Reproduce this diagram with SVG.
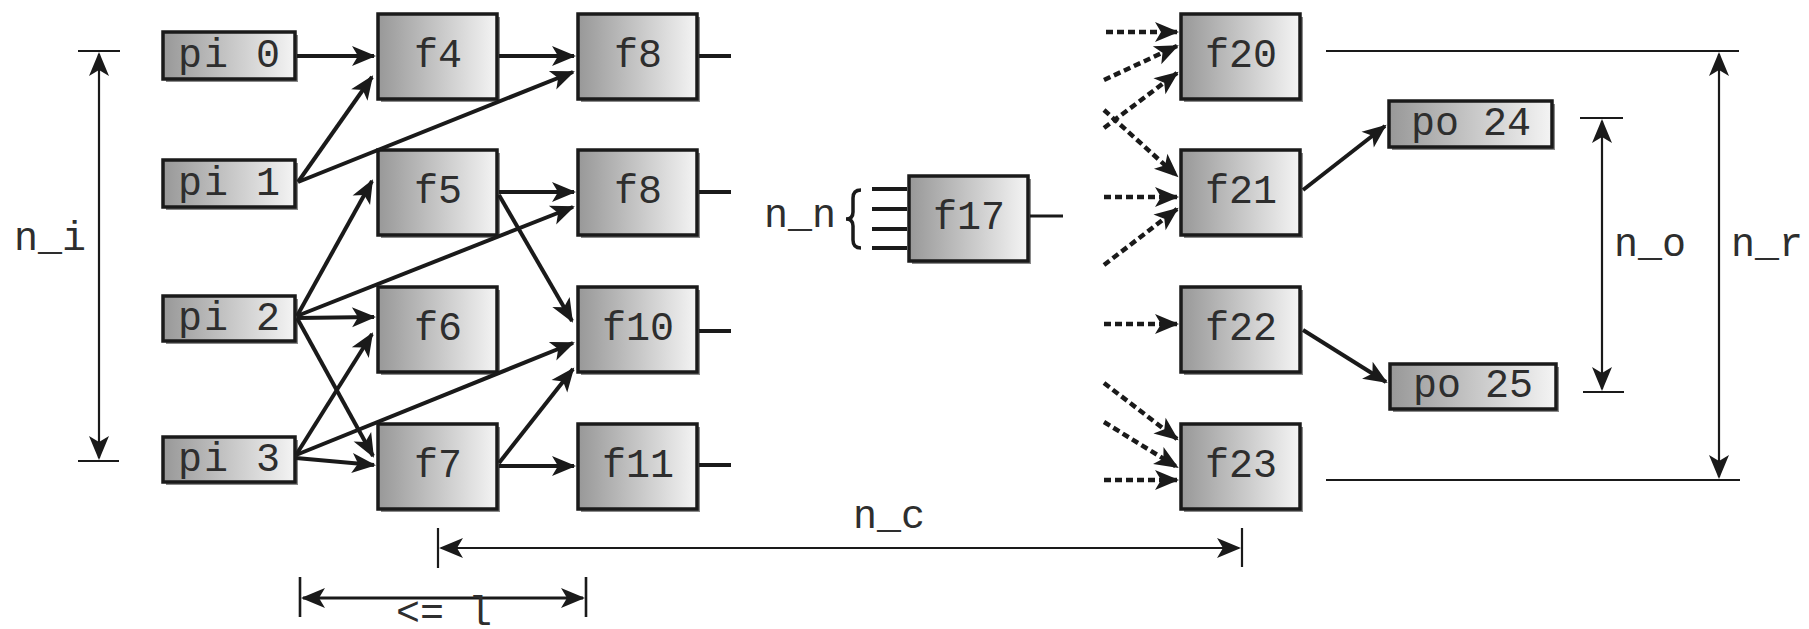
<svg xmlns="http://www.w3.org/2000/svg" width="1809" height="629" viewBox="0 0 1809 629">
<style>
  .box{fill:url(#g);stroke:#1a1a1a;stroke-width:3.5}
  .sh{fill:#8a8a8a}
  .t{font-family:"Liberation Mono","Courier New",monospace;font-size:40px;fill:#2e2e2e}
  .c{text-anchor:middle}
  .ls{letter-spacing:2px}
  .con{fill:none;stroke:#1a1a1a;stroke-width:4;marker-end:url(#a)}
  .dash{fill:none;stroke:#1a1a1a;stroke-width:4.5;stroke-dasharray:7 4;marker-end:url(#a)}
  .stub{fill:none;stroke:#1a1a1a;stroke-width:4}
  .dim{fill:none;stroke:#1a1a1a;stroke-width:2.2}
  .dimA{fill:none;stroke:#1a1a1a;stroke-width:2.2;marker-start:url(#a);marker-end:url(#a)}
</style>
<defs>
  <linearGradient id="g" x1="0" y1="0" x2="1" y2="0">
    <stop offset="0" stop-color="#989898"/>
    <stop offset="0.5" stop-color="#c6c6c6"/>
    <stop offset="1" stop-color="#f4f4f4"/>
  </linearGradient>
  <marker id="a" viewBox="-27 -12 30 24" markerWidth="30" markerHeight="24" refX="-2" refY="0" orient="auto-start-reverse" markerUnits="userSpaceOnUse">
    <path d="M0,0 L-24,-10 L-18,0 L-24,10 Z" fill="#1a1a1a"/>
  </marker>
</defs>
<rect width="1809" height="629" fill="#ffffff"/>

<g id="pi0"><rect class="sh" x="166" y="35" width="132" height="47"/><rect class="box" x="163" y="32" width="132" height="47"/><text class="t c ls" x="230" y="67">pi 0</text></g>
<g id="pi1"><rect class="sh" x="166" y="163" width="132" height="47"/><rect class="box" x="163" y="160" width="132" height="47"/><text class="t c ls" x="230" y="195">pi 1</text></g>
<g id="pi2"><rect class="sh" x="166" y="299" width="132" height="45"/><rect class="box" x="163" y="296" width="132" height="45"/><text class="t c ls" x="230" y="330">pi 2</text></g>
<g id="pi3"><rect class="sh" x="166" y="440" width="132" height="45"/><rect class="box" x="163" y="437" width="132" height="45"/><text class="t c ls" x="230" y="471">pi 3</text></g>

<g id="f4"><rect class="sh" x="381" y="17" width="119" height="85"/><rect class="box" x="378" y="14" width="119" height="85"/><text class="t c" x="438" y="67">f4</text></g>
<g id="f5"><rect class="sh" x="381" y="153" width="119" height="85"/><rect class="box" x="378" y="150" width="119" height="85"/><text class="t c" x="438" y="203">f5</text></g>
<g id="f6"><rect class="sh" x="381" y="290" width="119" height="85"/><rect class="box" x="378" y="287" width="119" height="85"/><text class="t c" x="438" y="340">f6</text></g>
<g id="f7"><rect class="sh" x="381" y="427" width="119" height="85"/><rect class="box" x="378" y="424" width="119" height="85"/><text class="t c" x="438" y="477">f7</text></g>

<g id="f8a"><rect class="sh" x="581" y="17" width="119" height="85"/><rect class="box" x="578" y="14" width="119" height="85"/><text class="t c" x="638" y="67">f8</text><path class="stub" d="M699,56 L731,56"/></g>
<g id="f8b"><rect class="sh" x="581" y="153" width="119" height="85"/><rect class="box" x="578" y="150" width="119" height="85"/><text class="t c" x="638" y="203">f8</text><path class="stub" d="M699,192 L731,192"/></g>
<g id="f10"><rect class="sh" x="581" y="290" width="119" height="85"/><rect class="box" x="578" y="287" width="119" height="85"/><text class="t c" x="638" y="340">f10</text><path class="stub" d="M699,331 L731,331"/></g>
<g id="f11"><rect class="sh" x="581" y="427" width="119" height="85"/><rect class="box" x="578" y="424" width="119" height="85"/><text class="t c" x="638" y="477">f11</text><path class="stub" d="M699,465 L731,465"/></g>

<g id="f17">
  <rect class="sh" x="912" y="179" width="119" height="85"/><rect class="box" x="909" y="176" width="119" height="85"/>
  <text class="t c" x="969" y="229">f17</text>
  <path class="stub" d="M872,189 L907,189 M872,209 L907,209 M872,229 L907,229 M872,248 L907,248"/>
  <path class="stub" style="stroke-width:2.8" d="M1030,216 L1063,216"/>
  <path fill="none" stroke="#1a1a1a" stroke-width="3.5" d="M861,190 Q853,190 853,198 L853,212 Q853,219 846,219 Q853,219 853,226 L853,240 Q853,248 861,248"/>
  <text class="t" x="764" y="227">n_n</text>
</g>

<g id="f20"><rect class="sh" x="1184" y="17" width="119" height="85"/><rect class="box" x="1181" y="14" width="119" height="85"/><text class="t c" x="1241" y="67">f20</text></g>
<g id="f21"><rect class="sh" x="1184" y="153" width="119" height="85"/><rect class="box" x="1181" y="150" width="119" height="85"/><text class="t c" x="1241" y="203">f21</text></g>
<g id="f22"><rect class="sh" x="1184" y="290" width="119" height="85"/><rect class="box" x="1181" y="287" width="119" height="85"/><text class="t c" x="1241" y="340">f22</text></g>
<g id="f23"><rect class="sh" x="1184" y="427" width="119" height="85"/><rect class="box" x="1181" y="424" width="119" height="85"/><text class="t c" x="1241" y="477">f23</text></g>

<g id="po24"><rect class="sh" x="1392" y="104" width="163" height="46"/><rect class="box" x="1389" y="101" width="163" height="46"/><text class="t c" x="1471" y="135">po 24</text></g>
<g id="po25"><rect class="sh" x="1393" y="367" width="166" height="45"/><rect class="box" x="1390" y="364" width="166" height="45"/><text class="t c" x="1473" y="397">po 25</text></g>

<g id="connectors">
  <path class="con" d="M297,56 L374,56"/>
  <path class="con" d="M298,182 L372,77"/>
  <path class="con" d="M298,182 L573,72"/>
  <path class="con" d="M499,56 L574,56"/>
  <path class="con" d="M499,192 L574,192"/>
  <path class="con" d="M499,195 L572,321"/>
  <path class="con" d="M297,316 L372,181"/>
  <path class="con" d="M297,316 L573,207"/>
  <path class="con" d="M297,318 L374,317"/>
  <path class="con" d="M297,318 L373,456"/>
  <path class="con" d="M296,455 L372,334"/>
  <path class="con" d="M296,455 L573,343"/>
  <path class="con" d="M296,458 L374,465"/>
  <path class="con" d="M499,463 L573,369"/>
  <path class="con" d="M499,466 L574,466"/>
  <path class="con" d="M1303,190 L1385,126"/>
  <path class="con" d="M1303,330 L1386,382"/>
  <path class="dash" d="M1106,32 L1177,32"/>
  <path class="dash" d="M1104,80 L1177,46"/>
  <path class="dash" d="M1104,128 L1177,73"/>
  <path class="dash" d="M1104,110 L1177,176"/>
  <path class="dash" d="M1104,197 L1177,197"/>
  <path class="dash" d="M1104,265 L1177,209"/>
  <path class="dash" d="M1104,324 L1177,324"/>
  <path class="dash" d="M1104,383 L1177,439"/>
  <path class="dash" d="M1104,422 L1177,467"/>
  <path class="dash" d="M1104,480 L1177,480"/>
</g>

<g id="dimensions">
  <path class="dim" d="M78,51 L120,51 M78,461 L119,461"/>
  <path class="dimA" d="M99,54 L99,458"/>
  <text class="t" x="14" y="250">n_i</text>

  <path class="dim" d="M438,528 L438,568 M1242,528 L1242,567"/>
  <path class="dimA" d="M441,548 L1239,548"/>
  <text class="t" x="853" y="528">n_c</text>

  <path class="dim" style="stroke-width:2.6" d="M300,577 L300,617 M586,577 L586,617"/>
  <path class="dimA" style="stroke-width:3" d="M303,598 L583,598"/>
  <text class="t" x="396" y="625">&lt;= l</text>

  <path class="dim" d="M1580,118 L1623,118 M1583,392 L1624,392"/>
  <path class="dimA" d="M1602,121 L1602,389"/>
  <text class="t" x="1614" y="256">n_o</text>

  <path class="dim" d="M1326,51 L1739,51 M1326,480 L1740,480"/>
  <path class="dimA" d="M1719,54 L1719,477"/>
  <text class="t" x="1731" y="256">n_r</text>
</g>
</svg>
